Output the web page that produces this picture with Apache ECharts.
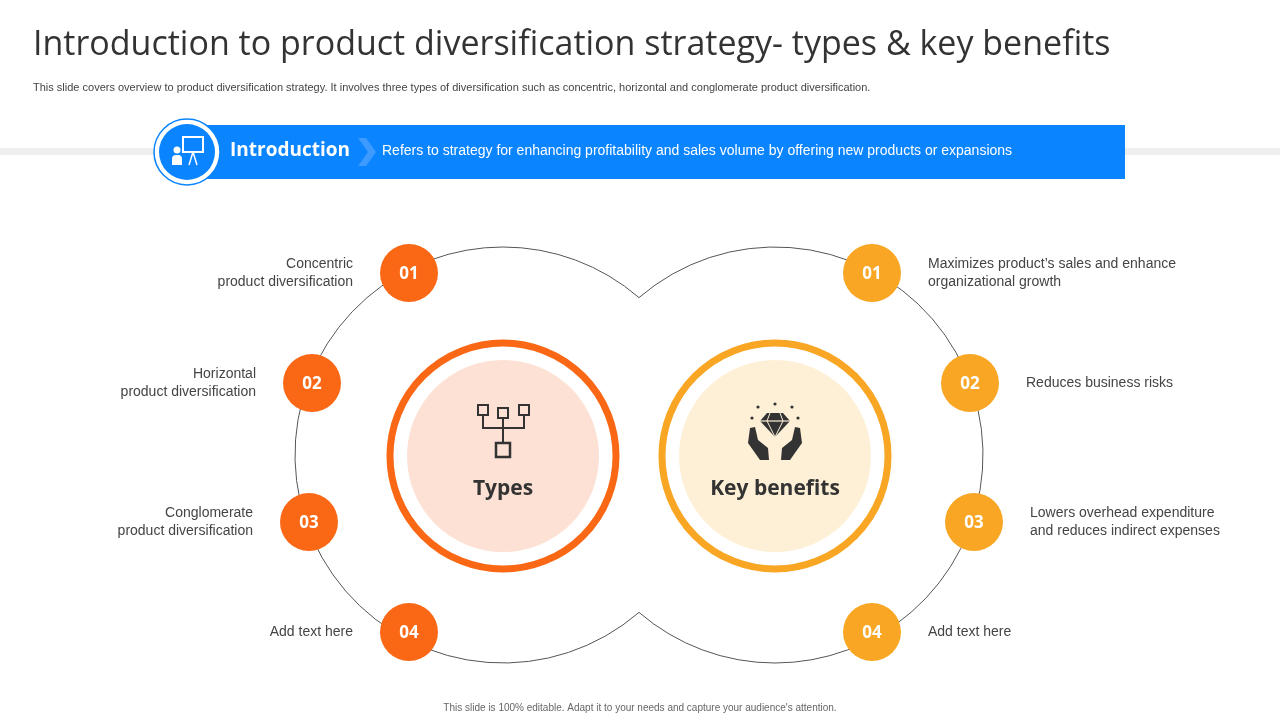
<!DOCTYPE html>
<html><head><meta charset="utf-8">
<script src="https://cdn.jsdelivr.net/npm/echarts@6/dist/echarts.min.js"></script>
<style>html,body{margin:0;padding:0;background:#fff}#c{width:1280px;height:720px}</style>
</head><body><div id="c"></div>
<script>
const title = 'Introduction to product diversification strategy- types & key benefits';
const subtitle = 'This slide covers overview to product diversification strategy. It involves three types of diversification such as concentric, horizontal and conglomerate product diversification.';
const introLabel = 'Introduction';
const introText = 'Refers to strategy for enhancing profitability and sales volume by offering new products or expansions';
const footer = "This slide is 100% editable. Adapt it to your needs and capture your audience's attention.";
const numbers = ['01','02','03','04'];
const typeItems = ['Concentric\nproduct diversification','Horizontal\nproduct diversification','Conglomerate\nproduct diversification','Add text here'];
const benefitItems = ['Maximizes product\u2019s sales and enhance\norganizational growth','Reduces business risks','Lowers overhead expenditure\nand reduces indirect expenses','Add text here'];
const hubLabels = ['Types','Key benefits'];

const ORANGE='#FA6816', YELLOW='#F8A623', BLUE='#0A84FF', F='"Open Sans", "Noto Sans", sans-serif', A='"Liberation Sans", Arial, sans-serif';
const g=[];
// header
g.push({type:'text',left:33,top:28,style:{text:title,font:'34px '+F,fill:'#333'}});
g.push({type:'text',left:33,top:82,style:{text:subtitle,font:'11px '+A,fill:'#444'}});
g.push({type:'rect',shape:{x:0,y:148,width:1280,height:7},style:{fill:'#EEEEEE'}});
g.push({type:'rect',shape:{x:195,y:125,width:930,height:54},style:{fill:BLUE}});
g.push({type:'polygon',shape:{points:[[358,138],[366,138],[376,152],[366,166],[358,166],[368,152]]},style:{fill:'#3D9BFF'}});
g.push({type:'circle',shape:{cx:187,cy:152,r:33},style:{fill:'#fff',stroke:BLUE,lineWidth:1.5}});
g.push({type:'circle',shape:{cx:187,cy:152,r:28},style:{fill:BLUE}});
g.push({type:'rect',shape:{x:183,y:137,width:20,height:15},style:{fill:'none',stroke:'#fff',lineWidth:2}});
g.push({type:'circle',shape:{cx:177,cy:150,r:3.5},style:{fill:'#fff'}});
g.push({type:'rect',shape:{x:172,y:155,width:10,height:10,r:[4,4,0,0]},style:{fill:'#fff'}});
g.push({type:'line',shape:{x1:193,y1:152,x2:189,y2:165},style:{stroke:'#fff',lineWidth:1.5}});
g.push({type:'line',shape:{x1:193,y1:152,x2:197,y2:165},style:{stroke:'#fff',lineWidth:1.5}});
g.push({type:'text',left:230,top:141,style:{text:introLabel,font:'bold 19px '+F,fill:'#fff'}});
g.push({type:'text',left:382,top:144,style:{text:introText,font:'14px '+A,fill:'#fff'}});
// big arcs
const R=208, a=Math.acos(136/R);
g.push({type:'arc',shape:{cx:503,cy:455,r:R,startAngle:a,endAngle:2*Math.PI-a,clockwise:true},style:{stroke:'#555',lineWidth:1,fill:null}});
g.push({type:'arc',shape:{cx:775,cy:455,r:R,startAngle:Math.PI+a,endAngle:3*Math.PI-a,clockwise:true},style:{stroke:'#555',lineWidth:1,fill:null}});
// hubs
[[503,ORANGE,'#FCE1D4'],[775,YELLOW,'#FEF0D6']].forEach((h,i)=>{
  g.push({type:'circle',shape:{cx:h[0],cy:456,r:113},style:{fill:'#fff',stroke:h[1],lineWidth:7}});
  g.push({type:'circle',shape:{cx:h[0],cy:456,r:96},style:{fill:h[2]}});
  g.push({type:'text',x:h[0],y:489,style:{text:hubLabels[i],font:'bold 21px '+F,fill:'#333',align:'center',verticalAlign:'middle'}});
});
const ic='#333';
[[483,410],[503,413],[524,410]].forEach(p=>g.push({type:'rect',shape:{x:p[0]-5,y:p[1]-5,width:10,height:10},style:{fill:'none',stroke:ic,lineWidth:2}}));
g.push({type:'polyline',shape:{points:[[483,415],[483,428],[524,428],[524,415]]},style:{stroke:ic,lineWidth:2,fill:null}});
g.push({type:'line',shape:{x1:503,y1:418,x2:503,y2:443},style:{stroke:ic,lineWidth:2}});
g.push({type:'rect',shape:{x:496,y:443,width:14,height:14},style:{fill:'none',stroke:ic,lineWidth:2.5}});
g.push({type:'polygon',shape:{points:[[767,413],[783,413],[790,421],[775,437],[760,421]]},style:{fill:ic}});
g.push({type:'polyline',shape:{points:[[760,421],[790,421]]},style:{stroke:'#FEF0D6',lineWidth:1.2}});
g.push({type:'polyline',shape:{points:[[770,413],[767,421],[775,437],[783,421],[780,413]]},style:{stroke:'#FEF0D6',lineWidth:1,fill:null}});
g.push({type:'polygon',shape:{points:[[750,428],[755,427],[758,440],[768,448],[769,460],[760,460],[748,443]]},style:{fill:ic}});
g.push({type:'polygon',shape:{points:[[800,428],[795,427],[792,440],[782,448],[781,460],[790,460],[802,443]]},style:{fill:ic}});
[[758,407],[792,407],[775,404],[752,418],[798,418]].forEach(p=>g.push({type:'circle',shape:{cx:p[0],cy:p[1],r:1.6},style:{fill:ic}}));
const leftPos=[[409,273],[312,383],[309,522],[409,632]];
const rightPos=[[872,273],[970,383],[974,522],[872,632]];
numbers.forEach((n,i)=>{
  [[leftPos[i],ORANGE],[rightPos[i],YELLOW]].forEach(([p,c])=>{
    g.push({type:'circle',shape:{cx:p[0],cy:p[1],r:29},style:{fill:c}});
    g.push({type:'text',x:p[0],y:p[1]+1,style:{text:n,font:'bold 17px '+F,fill:'#fff',align:'center',verticalAlign:'middle'}});
  });
  g.push({type:'text',x:leftPos[i][0]-56,y:leftPos[i][1],style:{text:typeItems[i],font:'14px '+A,fill:'#444',align:'right',verticalAlign:'middle',lineHeight:18}});
  g.push({type:'text',x:rightPos[i][0]+56,y:rightPos[i][1],style:{text:benefitItems[i],font:'14px '+A,fill:'#444',align:'left',verticalAlign:'middle',lineHeight:18}});
});
g.push({type:'text',x:640,y:708,style:{text:footer,font:'10px '+A,fill:'#666',align:'center',verticalAlign:'middle'}});
const chart=echarts.init(document.getElementById('c'));
chart.setOption({animation:false,graphic:{elements:g}});
</script></body></html>
